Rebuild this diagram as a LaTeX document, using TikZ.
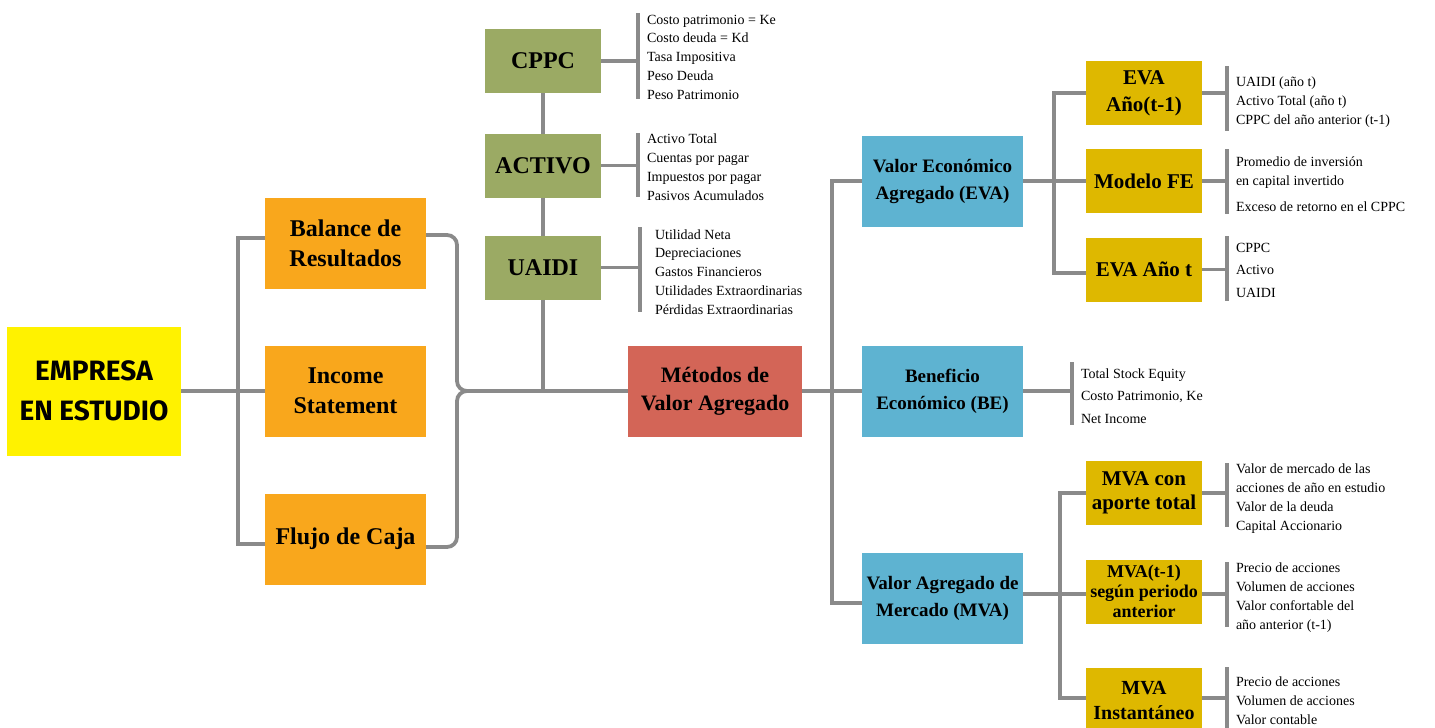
\documentclass[tikz,border=0pt]{standalone}
\usepackage{fontspec}
\setmainfont{Liberation Serif}
\newfontfamily\empfont{Fira Sans}
\usepackage{tikz}

\definecolor{empYellow}{HTML}{FFF200}
\definecolor{balOrange}{HTML}{F9A71C}
\definecolor{cppcGreen}{HTML}{9BAA64}
\definecolor{metRed}{HTML}{D36557}
\definecolor{evaBlue}{HTML}{5EB3D1}
\definecolor{subGold}{HTML}{DEB800}
\definecolor{linkGray}{HTML}{8A8A8A}

\tikzset{
  box/.style={rectangle, inner sep=0pt, outer sep=0pt, align=center, text=black},
  empbox/.style={box, fill=empYellow, minimum width=174pt, minimum height=129pt,
    font=\empfont\bfseries\fontsize{28}{40}\selectfont},
  balbox/.style={box, fill=balOrange, minimum width=161pt, minimum height=91pt,
    font=\bfseries\fontsize{24}{30}\selectfont},
  cppcbox/.style={box, fill=cppcGreen, minimum width=116pt, minimum height=64pt,
    font=\bfseries\fontsize{24}{30}\selectfont},
  metbox/.style={box, fill=metRed, minimum width=174pt, minimum height=91pt,
    font=\bfseries\fontsize{22}{28}\selectfont},
  evabox/.style={box, fill=evaBlue, minimum width=161pt, minimum height=91pt,
    font=\bfseries\fontsize{19}{27}\selectfont},
  subbox/.style={box, fill=subGold, minimum width=116pt, minimum height=64pt,
    font=\bfseries\fontsize{21}{27}\selectfont},
  list/.style={inner sep=0pt, outer sep=0pt, align=left, anchor=base west,
    font=\fontsize{14}{18.75}\selectfont},
  link/.style={draw=linkGray, line width=3.8pt},
}

\begin{document}
\begin{tikzpicture}[x=1pt,y=-1pt]
\useasboundingbox (0,0) rectangle (1435,728);

% boxes
\node (empresa) [empbox] at (94,391) {EMPRESA\\EN ESTUDIO};
\node (balance) [balbox] at (345.5,243) {Balance de\\Resultados};
\node (income) [balbox] at (345.5,391) {Income\\Statement};
\node (flujo) [balbox] at (345.5,539) {Flujo de Caja};
\node (cppc) [cppcbox] at (543,61) {CPPC};
\node (activo) [cppcbox] at (543,165.5) {ACTIVO};
\node (uaidi) [cppcbox] at (543,267.5) {UAIDI};
\node (metodos) [metbox] at (715,391) {Métodos de\\Valor Agregado};
\node (eva) [evabox] at (942.5,181) {Valor Económico\\Agregado (EVA)};
\node (be) [evabox] at (942.5,391) {Beneficio\\Económico (BE)};
\node (mva) [evabox] at (942.5,598) {Valor Agregado de\\Mercado (MVA)};
\node (evat1) [subbox] at (1144,93) {EVA\\Año(t-1)};
\node (fe) [subbox] at (1144,181) {Modelo FE};
\node (evat) [subbox] at (1144,269.5) {EVA Año t};
\node (mvac) [subbox, font=\bfseries\fontsize{21}{24}\selectfont] at (1144,493) {MVA con\\aporte total};
\node (mvat1) [subbox, font=\bfseries\fontsize{18}{20}\selectfont] at (1144,591.5) {MVA(t-1)\\según periodo\\anterior};
\node (mvai) [subbox, font=\bfseries\fontsize{20}{25}\selectfont] at (1144,700) {MVA\\Instantáneo};

% lists (placed at the baseline of their last line)
\node (cppcL) [list] at (647,99) {Costo patrimonio = Ke\\Costo deuda = Kd\\Tasa Impositiva\\Peso Deuda\\Peso Patrimonio};
\node (activoL) [list] at (647,200) {Activo Total\\Cuentas por pagar\\Impuestos por pagar\\Pasivos Acumulados};
\node (uaidiL) [list] at (655,314) {Utilidad Neta\\Depreciaciones\\Gastos Financieros\\Utilidades Extraordinarias\\Pérdidas Extraordinarias};
\node (evat1L) [list] at (1236,124) {UAIDI (año t)\\Activo Total (año t)\\CPPC del año anterior (t-1)};
\node (feL) [list] at (1236,211) {Promedio de inversión\\en capital invertido\\[7pt]Exceso de retorno en el CPPC};
\node (evatL) [list, font=\fontsize{14}{22.5}\selectfont] at (1236,297) {CPPC\\Activo\\UAIDI};
\node (beL) [list, font=\fontsize{14}{22.5}\selectfont] at (1081,423) {Total Stock Equity\\Costo Patrimonio, Ke\\Net Income};
\node (mvacL) [list] at (1236,530) {Valor de mercado de las\\acciones de año en estudio\\Valor de la deuda\\Capital Accionario};
\node (mvat1L) [list] at (1236,629) {Precio de acciones\\Volumen de acciones\\Valor confortable del\\año anterior (t-1)};
\node (mvaiL) [list] at (1236,724) {Precio de acciones\\Volumen de acciones\\Valor contable};

% left side
\coordinate (lt) at (238,238);
\coordinate (lb) at (238,544);
\draw[link] (empresa) -- (income);
\draw[link] (balance.west |- lt) -- (lt) -- (lb) -- (flujo.west |- lb);

% brace
\coordinate (bt) at (457,235);
\coordinate (bb) at (457,547);
\coordinate (tip) at (468,391);
\draw[link, rounded corners=10pt] (balance.east |- bt) -- (bt) -- (bt |- tip) -- (tip);
\draw[link, rounded corners=10pt] (tip) -- (bb |- tip) -- (bb) -- (flujo.east |- bb);
\draw[link] (tip) -- (metodos);
\draw[link] (cppc) -- (activo);
\draw[link] (activo) -- (uaidi);
\draw[link] (uaidi) -- (uaidi |- tip);

% right side
\coordinate (rt) at (832,181);
\coordinate (rb) at (832,603);
\draw[link] (metodos) -- (be);
\draw[link] (eva.west |- rt) -- (rt) -- (rb) -- (mva.west |- rb);

\coordinate (et) at (1054,93);
\coordinate (eb) at (1054,273);
\draw[link] (eva) -- (fe);
\draw[link] (evat1.west |- et) -- (et) -- (eb) -- (evat.west |- eb);

\coordinate (mt) at (1060,493);
\coordinate (mm) at (1060,594);
\coordinate (mb) at (1060,698);
\draw[link] (mvac.west |- mt) -- (mt) -- (mb) -- (mvai.west |- mb);
\draw[link] (mva.east |- mm) -- (mvat1.west |- mm);

% bars
\coordinate (cppcT) at (638,13);
\coordinate (cppcB) at (638,99);
\draw[link] (cppcT) -- (cppcB);
\draw[link] (cppc) -- (cppc -| cppcT);
\coordinate (activoT) at (638,133);
\coordinate (activoB) at (638,197);
\draw[link] (activoT) -- (activoB);
\draw[link] (activo) -- (activo -| activoT);
\coordinate (uaidiT) at (640,227);
\coordinate (uaidiB) at (640,312);
\draw[link] (uaidiT) -- (uaidiB);
\draw[link] (uaidi) -- (uaidi -| uaidiT);
\coordinate (evat1T) at (1227,66);
\coordinate (evat1B) at (1227,131);
\draw[link] (evat1T) -- (evat1B);
\draw[link] (evat1) -- (evat1 -| evat1T);
\coordinate (feT) at (1227,149);
\coordinate (feB) at (1227,214);
\draw[link] (feT) -- (feB);
\draw[link] (fe) -- (fe -| feT);
\coordinate (evatT) at (1227,236);
\coordinate (evatB) at (1227,301);
\draw[link] (evatT) -- (evatB);
\draw[link] (evat) -- (evat -| evatT);
\coordinate (beT) at (1072,362);
\coordinate (beB) at (1072,425);
\draw[link] (beT) -- (beB);
\draw[link] (be) -- (be -| beT);
\coordinate (mvacT) at (1227,463);
\coordinate (mvacB) at (1227,527);
\draw[link] (mvacT) -- (mvacB);
\draw[link] (mvac) -- (mvac -| mvacT);
\coordinate (mvat1T) at (1227,562);
\coordinate (mvat1B) at (1227,627);
\draw[link] (mvat1T) -- (mvat1B);
\draw[link] (mvat1.east |- mm) -- (mm -| mvat1T);
\coordinate (mvaiT) at (1227,667);
\coordinate (mvaiB) at (1227,730);
\draw[link] (mvaiT) -- (mvaiB);
\draw[link] (mvai.east |- mb) -- (mb -| mvaiT);
\end{tikzpicture}
\end{document}
